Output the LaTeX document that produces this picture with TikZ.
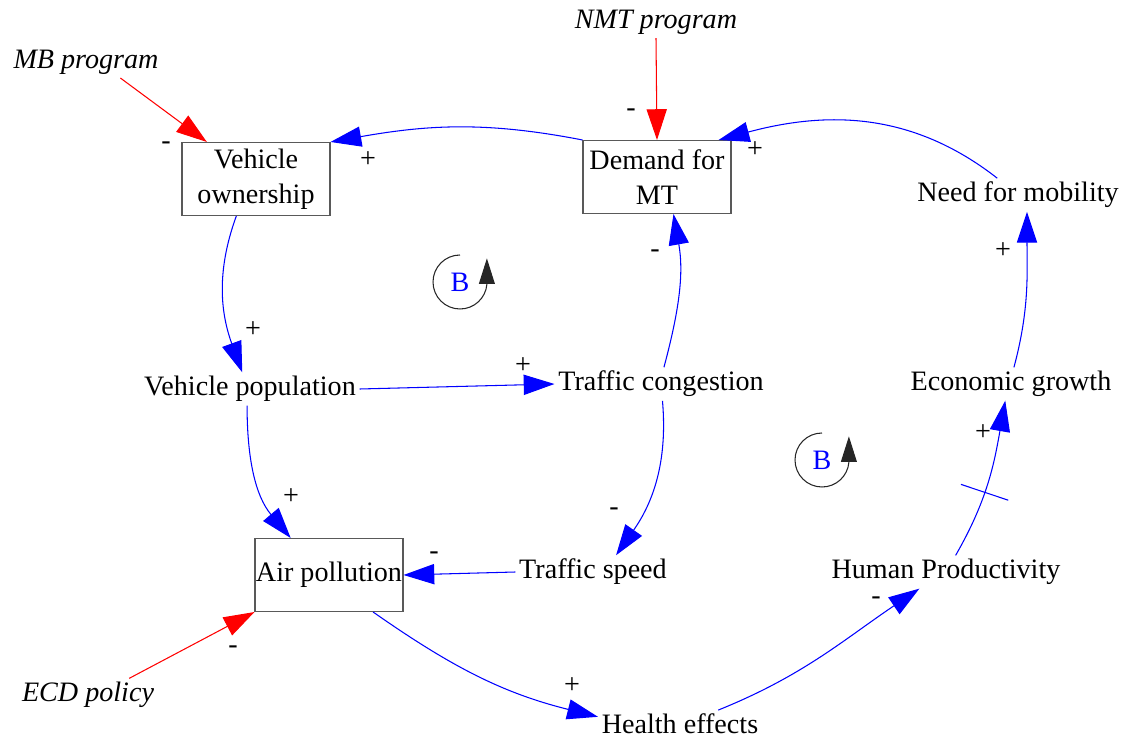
\documentclass[tikz,border=0pt]{standalone}
\usepackage{fontspec}
\setmainfont{Liberation Serif}
\usetikzlibrary{arrows.meta,calc}
\tikzset{
  var/.style={font=\fontsize{16}{20}\selectfont, inner sep=2pt, align=center},
  stock/.style={var, draw=black!65, line width=0.6pt, inner sep=0.5pt, minimum width=2.96cm, minimum height=1.46cm},
  policy/.style={var, font=\fontsize{16}{20}\selectfont\itshape},
  sign/.style={font=\fontsize{16}{20}\selectfont, inner sep=0pt},
  link/.style={blue, line width=0.6pt, -{Triangle[length=17.5pt,width=11.5pt]}},
  lever/.style={link, red},
  delay/.style={draw=blue, line width=0.6pt, minimum height=1cm, minimum width=0pt, inner sep=0pt},
  loopb/.style={font=\fontsize{16}{20}\selectfont, text=blue, inner sep=0pt},
  turn/.style={black!85, line width=0.6pt, -{Triangle[length=14.5pt,width=9pt]}}
}
\begin{document}
\begin{tikzpicture}[x=0.02cm, y=0.02cm]
    \useasboundingbox (0,0) rectangle (1123,-740);

    \node[policy] (mbprog)  at (86,-62)   {MB program};
    \node[policy] (nmtprog) at (656,-22)  {NMT program};
    \node[policy] (ecdpol)  at (88,-695)  {ECD policy};

    \node[stock] (vown)   at (256,-179) {Vehicle\\ownership};
    \node[stock] (dmt)    at (657,-177) {Demand for\\MT};
    \node[stock] (airpol) at (329,-575) {Air pollution};

    \node[var] (needmob) at (1018,-195) {Need for mobility};
    \node[var] (vpop)    at (250,-389)  {Vehicle population};
    \node[var] (tcong)   at (661,-384)  {Traffic congestion};
    \node[var] (econ)    at (1011,-384) {Economic growth};
    \node[var] (tspeed)  at (593,-572)  {Traffic speed};
    \node[var] (humprod) at (946,-572)  {Human Productivity};
    \node[var] (health)  at (680,-724)  {Health effects};

    \draw[lever] (mbprog.-25) -- (vown.143);
    \draw[lever] (nmtprog.south) -- (dmt.north);
    \draw[lever] (ecdpol.22) -- (airpol.south west);

    \draw[link] (dmt.north west) to[out=169, in=10] (vown.north east);
    \draw[link] (needmob.141) to[out=142, in=15] (dmt.31);
    \draw[link] (econ.80) to[out=75, in=-90] ($(needmob.south)+(9,0)$);
    \draw[link] (humprod.60) to[out=60, in=-100] node[pos=0.42, sloped, delay] {} (econ.-109);
    \draw[link] (health.20) to[out=22, in=214] (humprod.212);
    \draw[link] (airpol.-40) to[out=-35, in=166] (health.175);
    \draw[link] (tspeed.west) -- (airpol.east);
    \draw[link] (tcong.-85) to[out=-85, in=55] (tspeed.36);
    \draw[link] (tcong.80) to[out=75, in=-80] (dmt.-66);
    \draw[link] (vpop.east) -- (tcong.west);
    \draw[link] (vown.-118) to[out=-110, in=110] (vpop.115);
    \draw[link] (vpop.-100) to[out=-90, in=130] (airpol.136);

    \node[sign] (s1)  at (166,-146) {-};
    \node[sign] (s2)  at (368,-160) {+};
    \node[sign] (s3)  at (631,-113) {-};
    \node[sign] (s4)  at (755,-150) {+};
    \node[sign] (s5)  at (1003,-251) {+};
    \node[sign] (s6)  at (983,-433) {+};
    \node[sign] (s7)  at (876,-601) {-};
    \node[sign] (s8)  at (572,-686) {+};
    \node[sign] (s9)  at (434,-556) {-};
    \node[sign] (s10) at (614,-512) {-};
    \node[sign] (s11) at (655,-254) {-};
    \node[sign] (s12) at (523,-366) {+};
    \node[sign] (s13) at (253,-330) {+};
    \node[sign] (s14) at (291,-497) {+};
    \node[sign] (s15) at (233,-650) {-};

    \node[loopb] (b1) at (460,-282) {B};
    \draw[turn] ($(b1)+(0,27)$) arc[start angle=90, end angle=355, radius=0.54cm] -- ++(0,26);
    \node[loopb] (b2) at (822,-460) {B};
    \draw[turn] ($(b2)+(0,27)$) arc[start angle=90, end angle=355, radius=0.54cm] -- ++(0,26);
\end{tikzpicture}
\end{document}
